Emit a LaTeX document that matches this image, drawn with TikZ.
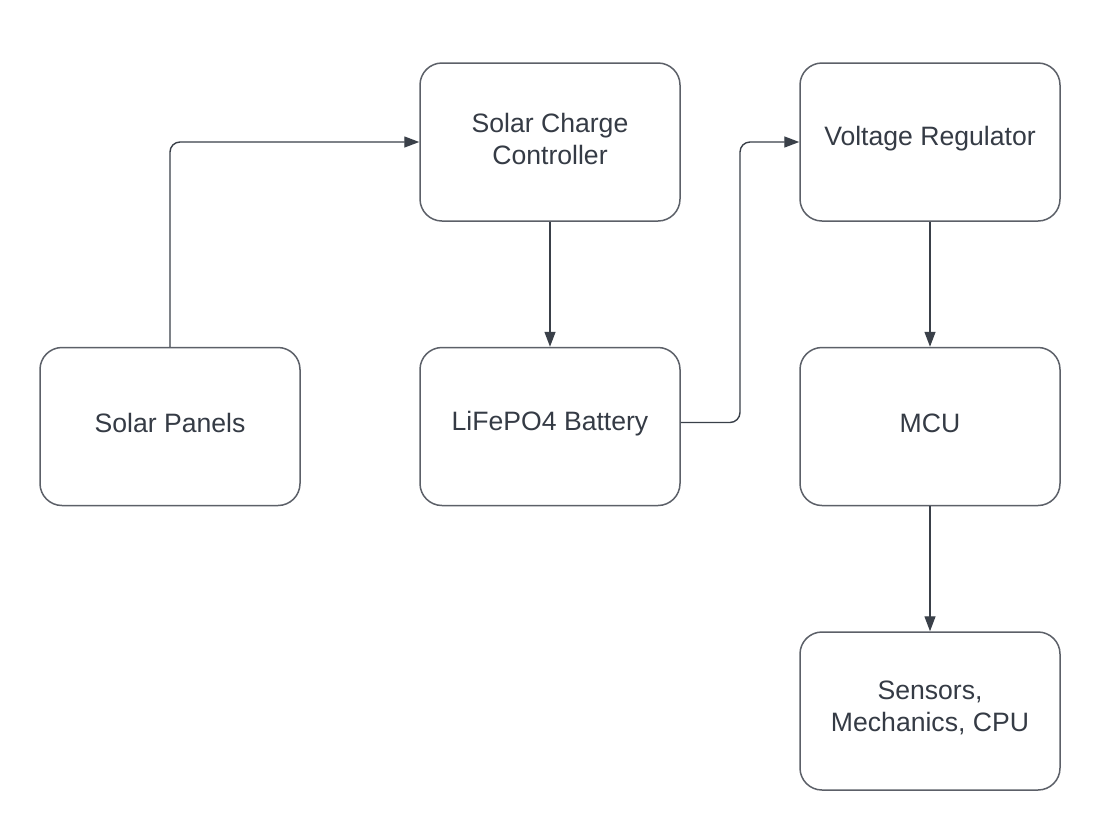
\documentclass[tikz,border=0pt]{standalone}
\usepackage{fontspec}
\setmainfont{Liberation Sans}
\usetikzlibrary{arrows.meta}
\definecolor{boxline}{HTML}{5C6068}
\definecolor{txt}{HTML}{353B45}
\definecolor{wire}{HTML}{3A4049}
\begin{document}
\begin{tikzpicture}[x=0.5pt,y=-0.5pt,
  block/.style={draw=boxline, line width=0.75pt, rounded corners=11pt,
    minimum width=130pt, minimum height=79pt, inner sep=0pt},
  blocktext/.style={align=center, text=txt,
    font=\fontsize{13.3}{16}\selectfont, inner sep=0pt, yshift=1.6pt},
  wireline/.style={draw=wire, line width=0.7pt, rounded corners=5pt,
    -{Triangle[length=7.5pt,width=5.5pt]}}]
\useasboundingbox[fill=white] (0,0) rectangle (1118,831);
\node[block, label={[blocktext]center:Solar Panels}] (sp)  at (170,426.5) {};
\node[block, label={[blocktext]center:Solar Charge\\Controller}] (scc) at (550,142) {};
\node[block, label={[blocktext]center:LiFePO4 Battery}] (bat) at (550,426.5) {};
\node[block, label={[blocktext]center:Voltage Regulator}] (vr)  at (930,142) {};
\node[block, label={[blocktext]center:MCU}] (mcu) at (930,426.5) {};
\node[block, label={[blocktext]center:Sensors,\\Mechanics, CPU}] (sen) at (930,711) {};
\draw[wireline] (sp.north) |- (scc.west);
\draw[wireline] (scc.south) -- (bat.north);
\draw[wireline] ([yshift=2pt]bat.east) -- ([yshift=2pt]bat.east -| 740,0) |- (vr.west);
\draw[wireline] (vr.south) -- (mcu.north);
\draw[wireline] (mcu.south) -- (sen.north);
\end{tikzpicture}
\end{document}
